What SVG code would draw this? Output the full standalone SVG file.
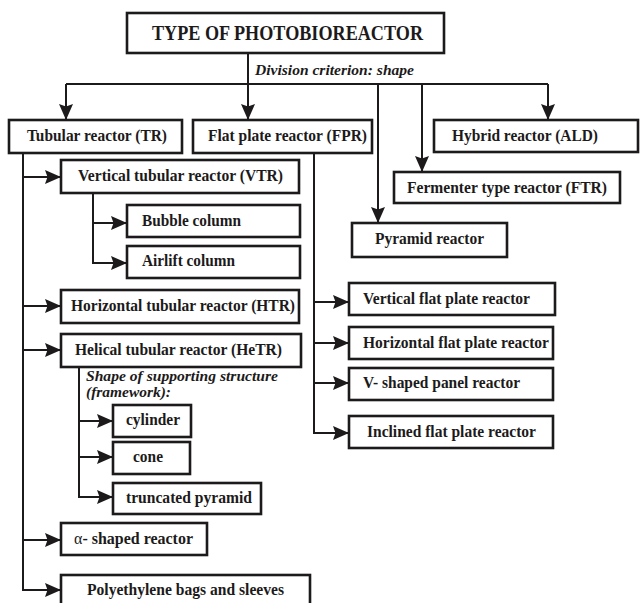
<svg xmlns="http://www.w3.org/2000/svg" width="640" height="603" viewBox="0 0 640 603">
<style>
.box{fill:#fff;stroke:#1c1a1a;stroke-width:2.6}
.t{font-family:"Liberation Serif","Times New Roman",serif;font-weight:bold;font-size:16px;fill:#1c1a1a}
.ti{font-family:"Liberation Serif","Times New Roman",serif;font-weight:bold;font-style:italic;font-size:15.5px;fill:#1c1a1a}
.c{fill:none;stroke:#1c1a1a;stroke-width:2}
</style>
<defs>
<marker id="ah" markerUnits="userSpaceOnUse" markerWidth="16" markerHeight="14" viewBox="0 0 16 14" refX="16" refY="7" orient="auto">
<path d="M0,0 L16,7 L0,14 L2.5,7 Z" fill="#1c1a1a"/>
</marker>
</defs>
<rect width="640" height="603" fill="#fff"/>
<g id="connectors">
<path class="c" d="M248,53 V84 M66,84 H548"/>
<path class="c" d="M66,84 V120" marker-end="url(#ah)"/>
<path class="c" d="M248,84 V120" marker-end="url(#ah)"/>
<path class="c" d="M548,84 V120" marker-end="url(#ah)"/>
<path class="c" d="M378,84 V223" marker-end="url(#ah)"/>
<path class="c" d="M422,84 V172" marker-end="url(#ah)"/>
<path class="c" d="M23,153 V590"/>
<path class="c" d="M23,177 H61" marker-end="url(#ah)"/>
<path class="c" d="M23,306 H61" marker-end="url(#ah)"/>
<path class="c" d="M23,350 H61" marker-end="url(#ah)"/>
<path class="c" d="M23,540 H61" marker-end="url(#ah)"/>
<path class="c" d="M22,590 H61" marker-end="url(#ah)"/>
<path class="c" d="M93,193 V263"/>
<path class="c" d="M93,223 H127" marker-end="url(#ah)"/>
<path class="c" d="M92,263 H127" marker-end="url(#ah)"/>
<path class="c" d="M79,367 V497"/>
<path class="c" d="M79,421 H113" marker-end="url(#ah)"/>
<path class="c" d="M79,457 H113" marker-end="url(#ah)"/>
<path class="c" d="M78,497 H113" marker-end="url(#ah)"/>
<path class="c" d="M314,153 V433"/>
<path class="c" d="M314,302 H349" marker-end="url(#ah)"/>
<path class="c" d="M314,343 H349" marker-end="url(#ah)"/>
<path class="c" d="M314,383 H349" marker-end="url(#ah)"/>
<path class="c" d="M313,433 H349" marker-end="url(#ah)"/>
</g>
<g id="title"><rect class="box" x="127" y="13" width="317" height="40"/><text class="t" style="font-size:20px" x="152" y="40" textLength="271" lengthAdjust="spacingAndGlyphs">TYPE OF PHOTOBIOREACTOR</text></g>
<g id="criterion"><text class="ti" x="255" y="75" textLength="159" lengthAdjust="spacingAndGlyphs">Division criterion: shape</text></g>
<g id="tr"><rect class="box" x="9" y="120" width="173" height="33"/><text class="t" x="27" y="141" textLength="140" lengthAdjust="spacingAndGlyphs">Tubular reactor (TR)</text></g>
<g id="fpr"><rect class="box" x="193" y="120" width="179" height="33"/><text class="t" x="208" y="141" textLength="159" lengthAdjust="spacingAndGlyphs">Flat plate reactor (FPR)</text></g>
<g id="hybrid"><rect class="box" x="434" y="120" width="204" height="32"/><text class="t" x="452" y="141" textLength="146" lengthAdjust="spacingAndGlyphs">Hybrid reactor (ALD)</text></g>
<g id="ftr"><rect class="box" x="394" y="172" width="226" height="31"/><text class="t" x="407" y="193" textLength="200" lengthAdjust="spacingAndGlyphs">Fermenter type reactor (FTR)</text></g>
<g id="pyramid"><rect class="box" x="352" y="223" width="155" height="34"/><text class="t" x="375" y="244" textLength="109" lengthAdjust="spacingAndGlyphs">Pyramid reactor</text></g>
<g id="vtr"><rect class="box" x="61" y="160" width="238" height="33"/><text class="t" x="78" y="181" textLength="205" lengthAdjust="spacingAndGlyphs">Vertical tubular reactor (VTR)</text></g>
<g id="bubble"><rect class="box" x="127" y="205" width="173" height="32"/><text class="t" x="142" y="226" textLength="99" lengthAdjust="spacingAndGlyphs">Bubble column</text></g>
<g id="airlift"><rect class="box" x="127" y="246" width="173" height="32"/><text class="t" x="142" y="266" textLength="93" lengthAdjust="spacingAndGlyphs">Airlift column</text></g>
<g id="htr"><rect class="box" x="61" y="290" width="238" height="33"/><text class="t" x="71" y="311" textLength="224" lengthAdjust="spacingAndGlyphs">Horizontal tubular reactor (HTR)</text></g>
<g id="hetr"><rect class="box" x="61" y="334" width="240" height="33"/><text class="t" x="75" y="355" textLength="207" lengthAdjust="spacingAndGlyphs">Helical tubular reactor (HeTR)</text></g>
<g id="framework"><text class="ti" x="86" y="381" textLength="192" lengthAdjust="spacingAndGlyphs">Shape of supporting structure</text><text class="ti" x="86" y="397" textLength="85" lengthAdjust="spacingAndGlyphs">(framework):</text></g>
<g id="cylinder"><rect class="box" x="113" y="405" width="78" height="32"/><text class="t" x="126" y="425" textLength="54" lengthAdjust="spacingAndGlyphs">cylinder</text></g>
<g id="cone"><rect class="box" x="113" y="442" width="77" height="32"/><text class="t" x="133" y="462" textLength="30" lengthAdjust="spacingAndGlyphs">cone</text></g>
<g id="truncated"><rect class="box" x="113" y="483" width="148" height="31"/><text class="t" x="126" y="503" textLength="126" lengthAdjust="spacingAndGlyphs">truncated pyramid</text></g>
<g id="alpha"><rect class="box" x="61" y="523" width="146" height="32"/><text class="t" x="74" y="544" textLength="119" lengthAdjust="spacingAndGlyphs"><tspan style="font-weight:normal">α</tspan>- shaped reactor</text></g>
<g id="poly"><rect class="box" x="61" y="575" width="249" height="40"/><text class="t" x="87" y="595" textLength="197" lengthAdjust="spacingAndGlyphs">Polyethylene bags and sleeves</text></g>
<g id="vflat"><rect class="box" x="349" y="283" width="206" height="32"/><text class="t" x="363" y="304" textLength="167" lengthAdjust="spacingAndGlyphs">Vertical flat plate reactor</text></g>
<g id="hflat"><rect class="box" x="349" y="327" width="204" height="32"/><text class="t" x="363" y="348" textLength="186" lengthAdjust="spacingAndGlyphs">Horizontal flat plate reactor</text></g>
<g id="vshaped"><rect class="box" x="349" y="368" width="204" height="32"/><text class="t" x="363" y="388" textLength="157" lengthAdjust="spacingAndGlyphs">V- shaped panel reactor</text></g>
<g id="inclined"><rect class="box" x="349" y="416" width="204" height="32"/><text class="t" x="367" y="437" textLength="169" lengthAdjust="spacingAndGlyphs">Inclined flat plate reactor</text></g>
</svg>
